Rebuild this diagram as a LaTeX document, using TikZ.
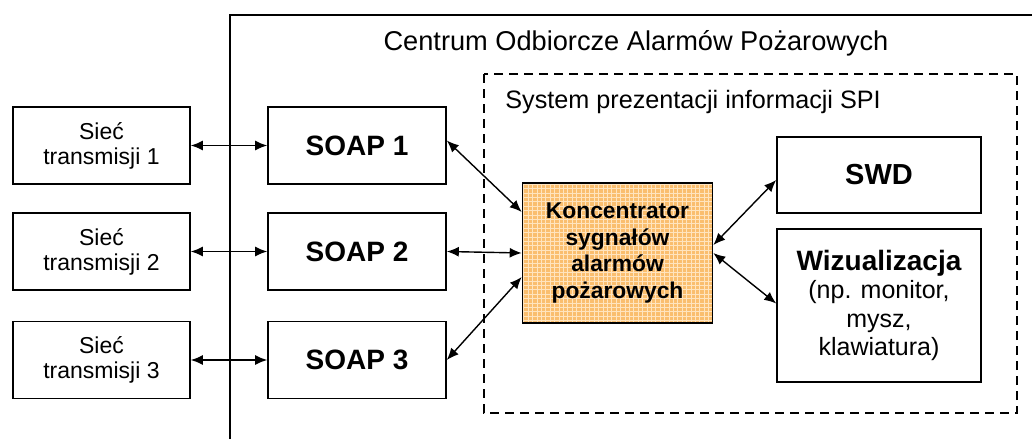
\documentclass[tikz,border=0pt]{standalone}
\usepackage{fontspec}
\setmainfont{Liberation Sans}
\usetikzlibrary{arrows.meta,calc}
\definecolor{kfill}{RGB}{250,190,110}
\definecolor{kgrid}{RGB}{255,228,190}
\tikzset{
  box/.style={draw, line width=0.8pt, align=center, inner sep=0pt},
  siec/.style={box, minimum width=88.5pt, minimum height=38.5pt, font=\fontsize{11.5}{12.5}\selectfont},
  soap/.style={box, minimum width=89pt, minimum height=38.5pt, font=\fontsize{14}{16}\bfseries\selectfont},
  konc/.style={box, minimum width=95pt, minimum height=70pt, fill=kfill,
    font=\fontsize{11.4}{13.4}\bfseries\selectfont,
    path picture={\draw[kgrid, line width=0.5pt] (path picture bounding box.south west) grid[step=2.2pt] (path picture bounding box.north east);}},
  dev/.style={box, minimum width=102pt},
  conn/.style={{Latex[length=6pt,width=5pt]}-{Latex[length=6pt,width=5pt]}, line width=0.7pt},
}
\begin{document}
\begin{tikzpicture}[x=0.5pt,y=-0.5pt]
\useasboundingbox (0,0) rectangle (1032,439);
% outer centre box (open to the right and bottom)
\draw[line width=0.8pt] (230,439) -- (230,15) -- (1032,15);
\node[font=\fontsize{13.6}{15}\selectfont] (title) at (636,43) {Centrum Odbiorcze Alarmów Pożarowych};
% dashed SPI box
\draw[line width=0.8pt, dash pattern=on 4.5pt off 3pt] (484,74) rectangle (1017,413);
\node[font=\fontsize{12.6}{14}\selectfont, anchor=west, inner sep=0pt] (spi) at (505,102) {System prezentacji informacji SPI};
% left networks
\node[siec] (n1) at (101.5,145.5) {Sieć\\transmisji 1};
\node[siec] (n2) at (101.5,251.5) {Sieć\\transmisji 2};
\node[siec] (n3) at (101.5,360) {Sieć\\transmisji 3};
% SOAP
\node[soap] (s1) at (357,145.5) {SOAP 1};
\node[soap] (s2) at (357,251.5) {SOAP 2};
\node[soap] (s3) at (357,360) {SOAP 3};
% concentrator
\node[konc] (k) at (617.5,253) {Koncentrator\\sygnałów\\alarmów\\pożarowych};
% devices
\node[dev, minimum height=38pt, font=\fontsize{14.5}{16}\bfseries\selectfont] (swd) at (879,175) {SWD};
\node[dev, minimum height=76.5pt, font=\fontsize{12.5}{14.3}\selectfont] (wiz) at (879,305.5) {{\fontsize{14}{14}\bfseries\selectfont Wizualizacja}\\(np. monitor,\\mysz,\\klawiatura)};
% connectors
\draw[conn] (n1.east) -- (s1.west);
\draw[conn] (n2.east) -- (s2.west);
\draw[conn] (n3.east) -- (s3.west);
\draw[conn] ([yshift=2.5pt]s1.east) -- ([yshift=20.5pt]k.west);
\draw[conn] (s2.east) -- (k.west);
\draw[conn] (s3.east) -- ([yshift=-12pt]k.west);
\draw[conn] ([yshift=4pt]k.east) -- ([yshift=-2.5pt]swd.west);
\draw[conn] (k.east) -- ([yshift=1pt]wiz.west);
\end{tikzpicture}
\end{document}
